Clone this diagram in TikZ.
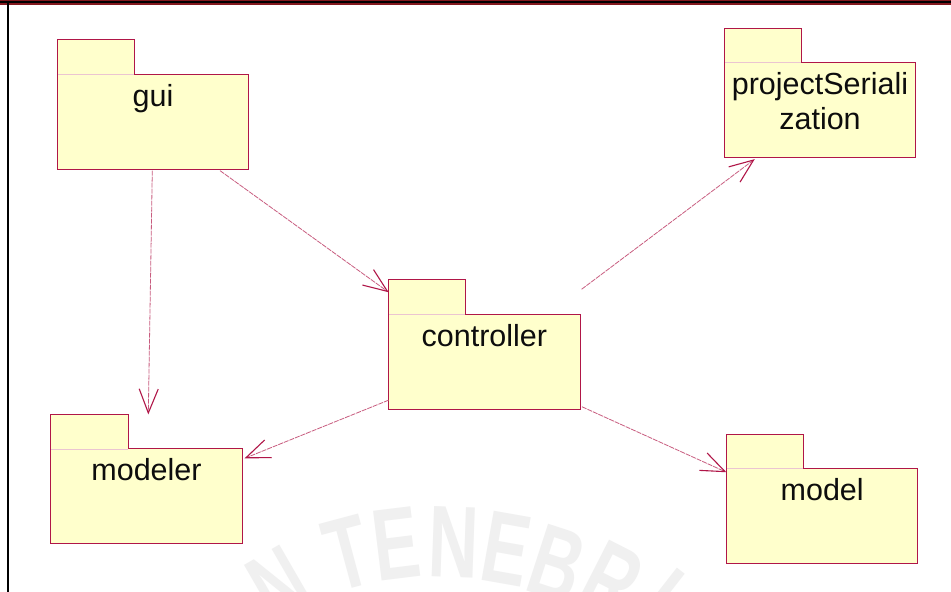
\documentclass[tikz,border=0pt]{standalone}
\usepackage{fontspec}
\setmainfont{Liberation Sans}
\newfontfamily\markfont{Liberation Sans}[FakeStretch=0.68]
\usetikzlibrary{arrows.meta,calc}

\definecolor{pkgrose}{RGB}{176,22,72}
\definecolor{pkgfillc}{RGB}{255,255,204}
\definecolor{framered}{RGB}{130,24,30}
\definecolor{markgray}{RGB}{240,240,240}

% UML package: tab on the upper left, body below it
\newcommand\drawpackage[1]{%
  \fill[pkgfillc] (#1.north west) rectangle ([xshift=77.3pt,yshift=-34.5pt]#1.north west);
  \fill[pkgfillc] ([yshift=-34.5pt]#1.north west) rectangle (#1.south east);
  \draw[tabedge] ([yshift=-34.5pt]#1.north west) -- ++(77.3,0);
  \draw[pkgedge] (#1.south west) -- (#1.north west) -- ++(77.3,0) -- ++(0,-34.5)
    -| (#1.south east) -- cycle;
}

\begin{document}
\begin{tikzpicture}[x=1pt,y=1pt,
  pkg/.style={rectangle, minimum width=191.5pt, minimum height=129.5pt,
    inner sep=0pt, outer sep=0pt},
  pkgedge/.style={draw=pkgrose, line width=1pt},
  tabedge/.style={draw=pkgrose!25, line width=0.8pt},
  pkglabel/.style={font=\fontsize{30.5}{35}\selectfont, text=black!95,
    inner sep=0pt, align=center},
  dep/.style={draw=pkgrose!70, line width=0.8pt, dash pattern=on 5pt off 1pt,
    -{Straight Barb[length=24pt,width=19pt,line width=1.1pt,color=pkgrose]}},
  wmark/.style={text=markgray, font=\markfont\bfseries\fontsize{102}{102}\selectfont,
    inner sep=0pt}
]
\useasboundingbox (0,0) rectangle (951,592);
\fill[white] (0,0) rectangle (951,592);

% faint seal lettering in the background
\begin{scope}
\clip (0,0) rectangle (951,592);
\node[wmark, rotate=30]  (wm1) at (280,6)  {N};
\node[wmark, rotate=15]  (wm2) at (348,39) {T};
\node[wmark, rotate=7]   (wm3) at (396,48) {E};
\node[wmark, rotate=-2]  (wm4) at (454,50) {N};
\node[wmark, rotate=-10] (wm5) at (506,43) {E};
\node[wmark, rotate=-18] (wm6) at (557,28) {B};
\node[wmark, rotate=-27] (wm7) at (612,11) {R};
\node[wmark, rotate=-38] (wm8) at (660,-7) {I};
\end{scope}

% page frame
\fill[framered] (0,592) rectangle (951,587.4);
\fill[black] (0,591) rectangle (951,589);
\fill[black] (7.3,0) rectangle (9.3,589);

% packages
\node[pkg] (gui)        at (153,487.3)   {};
\node[pkg] (controller) at (484.4,247.6) {};
\node[pkg] (projser)    at (820,499.1)   {};
\node[pkg] (modeler)    at (146.5,112.8) {};
\node[pkg] (model)      at (822.2,93)    {};

\drawpackage{gui}
\drawpackage{controller}
\drawpackage{projser}
\drawpackage{modeler}
\drawpackage{model}

\node[pkglabel, anchor=base] (gui-text)        at ([yshift=-66.5pt]gui.north)        {gui};
\node[pkglabel, anchor=base] (controller-text) at ([yshift=-66.5pt]controller.north) {controller};
\node[pkglabel, anchor=base] (projser-text)    at ([yshift=-101pt]projser.north)     {projectSeriali\\zation};
\node[pkglabel, anchor=base] (modeler-text)    at ([yshift=-66.5pt]modeler.north)    {modeler};
\node[pkglabel, anchor=base] (model-text)      at ([yshift=-66.5pt]model.north)      {model};

% dependencies
\draw[dep] ([xshift=-0.7pt,yshift=-1.2pt]gui.south) -- ([xshift=1.8pt]modeler.north);
\draw[dep] ([xshift=67pt,yshift=-1.2pt]gui.south) -- ([yshift=-12.6pt]controller.north west);
\draw[dep] ([xshift=1.5pt,yshift=-9.6pt]controller.north east) -- ([xshift=30.5pt,yshift=-1.5pt]projser.south west);
\draw[dep] ([yshift=9pt]controller.south west) -- ([xshift=2.3pt,yshift=-43.9pt]modeler.north east);
\draw[dep] ([xshift=1.8pt,yshift=2.4pt]controller.south east) -- ([yshift=-38pt]model.north west);
\end{tikzpicture}
\end{document}
